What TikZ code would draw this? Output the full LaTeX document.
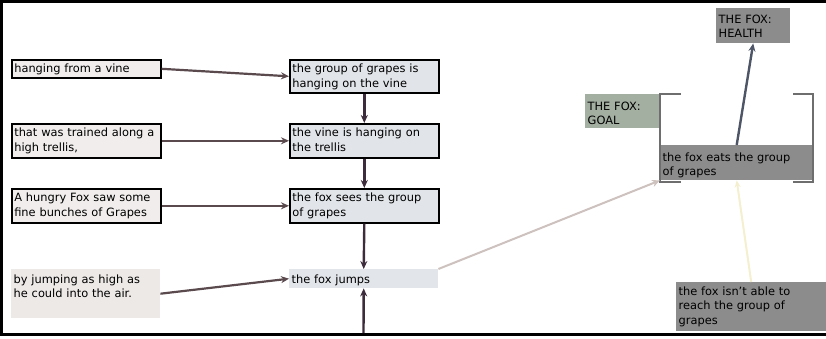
\documentclass[tikz,border=0pt]{standalone}
\usepackage{fontspec}
\setmainfont{DejaVu Sans}
\usetikzlibrary{arrows.meta}

\definecolor{leftfill}{HTML}{F0EDEC}
\definecolor{airfill}{HTML}{EDE9E7}
\definecolor{rightfill}{HTML}{E1E4E9}
\definecolor{jumpfill}{HTML}{E2E5EA}
\definecolor{stategray}{HTML}{8C8C8C}
\definecolor{goalgreen}{HTML}{A3AFA1}
\definecolor{bracketgray}{HTML}{6E6E6E}
\definecolor{linkbrown}{HTML}{5A4A4E}
\definecolor{chaindark}{HTML}{3D2C3C}
\definecolor{healthslate}{HTML}{4D5566}
\definecolor{jumppink}{HTML}{CDC2BE}
\definecolor{failyellow}{HTML}{F3EFCF}

\tikzset{
  textbox/.style={anchor=north west, inner xsep=2.5pt, inner ysep=0pt, align=left,
    text width=144pt, text height=13pt, font=\fontsize{11.4}{14.5}\selectfont},
  leftbox/.style={textbox, draw=black, line width=1.6pt, fill=leftfill},
  rightbox/.style={textbox, draw=black, line width=1.6pt, fill=rightfill},
  graybox/.style={textbox, fill=stategray, text height=15pt},
  link/.style={line width=2.2pt, draw=linkbrown, -{Stealth[length=8pt,width=7pt]}},
  chain/.style={line width=2.4pt, draw=chaindark, -{Stealth[length=8pt,width=7pt]}},
  bracket/.style={line width=2.2pt, draw=bracketgray}
}

\begin{document}
\begin{tikzpicture}[x=1pt, y=-1pt]
\useasboundingbox (0,0) rectangle (826,338);
\draw[line width=3pt] (826,1.5) -- (1.5,1.5) -- (1.5,334.5) -- (826,334.5);

% story text
\node[leftbox, text depth=5pt] (vine) at (11,59) {hanging from a vine};
\node[leftbox, text depth=21pt] (trellis) at (11,123) {that was trained along a\\high trellis,};
\node[leftbox, text depth=21pt] (hungry) at (11,188) {A hungry Fox saw some\\fine bunches of Grapes};
\node[textbox, fill=airfill, text height=14pt, text depth=35pt] (air) at (11,269) {by jumping as high as\\he could into the air.};

% timeline
\node[rightbox, text depth=20pt] (grapehang) at (289,59) {the group of grapes is\\hanging on the vine};
\node[rightbox, text depth=21pt] (vinehang) at (289,123) {the vine is hanging on\\the trellis};
\node[rightbox, text depth=21pt] (foxsees) at (289,188) {the fox sees the group\\of grapes};
\node[textbox, fill=jumpfill, text height=14pt, text depth=5pt] (foxjumps) at (289,269) {the fox jumps};
\coordinate (below) at (363.5,333);

% goals and states
\node[graybox, text width=69pt, text depth=20pt] (health) at (716,8) {THE FOX:\\HEALTH};
\node[graybox, fill=goalgreen, text width=70pt, text height=16pt, text depth=18pt] (goal) at (585,94) {THE FOX:\\GOAL};
\node[graybox, text width=148pt, text height=16pt, text depth=19pt] (eats) at (660,145) {the fox eats the group\\of grapes};
\node[graybox, text width=145pt, text height=13pt, text depth=36pt] (cannot) at (676,282) {the fox isn't able to\\reach the group of\\grapes};

\draw[bracket] (681,94) -- (660,94) -- (660,182) -- (681,182);
\draw[bracket] (793,94) -- (813,94) -- (813,182) -- (793,182);

\draw[link] (vine.east) -- (grapehang.west);
\draw[link] (trellis.east) -- (vinehang.west);
\draw[link] (hungry.east) -- (foxsees.west);
\draw[link] (air.east) -- (foxjumps.west);
\draw[chain] (grapehang.south) -- (vinehang.north);
\draw[chain] (vinehang.south) -- (foxsees.north);
\draw[chain] (foxsees.south) -- (foxjumps.north);
\draw[chain] (below) -- (foxjumps.south);
\draw[line width=2pt, draw=jumppink, -{Stealth[length=8pt,width=7pt]}] (foxjumps.north east) -- (eats.south west);
\draw[line width=2.4pt, draw=healthslate, -{Stealth[length=8pt,width=7pt]}] (eats.north) -- (health.south);
\draw[line width=2pt, draw=failyellow, -{Stealth[length=7pt,width=6pt]}] (cannot.north) -- (eats.south);
\end{tikzpicture}
\end{document}
